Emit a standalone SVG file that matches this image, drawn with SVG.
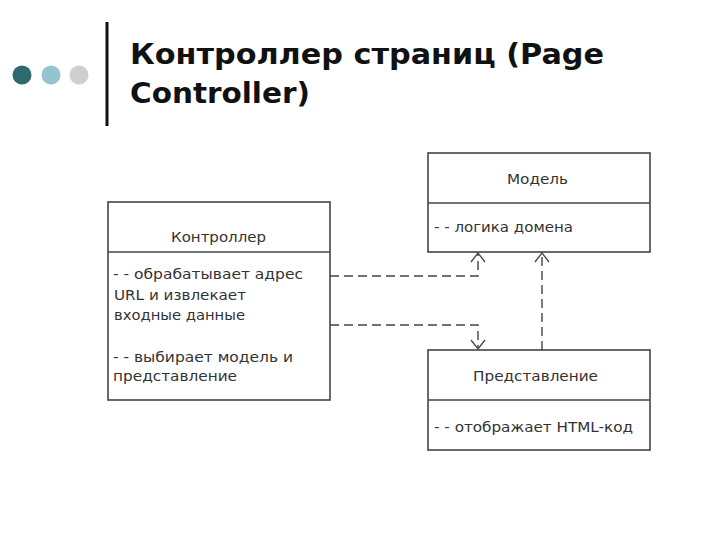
<svg xmlns="http://www.w3.org/2000/svg" width="720" height="540" viewBox="0 0 720 540">
<style>
.title{font-family:"DejaVu Sans","Liberation Sans",Arial,sans-serif;font-weight:bold;font-size:28px;fill:#111}
.box{fill:#fff;stroke:#444;stroke-width:1.6}
.div{stroke:#444;stroke-width:1.6}
.t{font-family:"DejaVu Sans","Liberation Sans",Arial,sans-serif;font-size:14.5px;fill:#333}
.c{text-anchor:middle}
.dash{fill:none;stroke:#444;stroke-width:1.4;stroke-dasharray:9,5}
.head{fill:none;stroke:#444;stroke-width:1.3}
</style>
<rect width="720" height="540" fill="#fff"/>
<g id="header">
<circle cx="22" cy="75" r="9.5" fill="#2e6a6d"/>
<circle cx="51" cy="75" r="9.5" fill="#93c6cc"/>
<circle cx="79" cy="75" r="9.5" fill="#cfcfcf"/>
<line x1="107" y1="22" x2="107" y2="126" stroke="#111" stroke-width="3"/>
<text class="title" x="130" y="64" textLength="474" lengthAdjust="spacingAndGlyphs">Контроллер страниц (Page</text>
<text class="title" x="130" y="103" textLength="180" lengthAdjust="spacingAndGlyphs">Controller)</text>
</g>
<g id="controller">
<rect class="box" x="108" y="202" width="222" height="198"/>
<line class="div" x1="108" y1="252" x2="330" y2="252"/>
<text class="t" x="171" y="242" textLength="95" lengthAdjust="spacingAndGlyphs">Контроллер</text>
<text class="t" x="113" y="279" textLength="190" lengthAdjust="spacingAndGlyphs">- - обрабатывает адрес</text>
<text class="t" x="114" y="300" textLength="132" lengthAdjust="spacingAndGlyphs">URL и извлекает</text>
<text class="t" x="114" y="320" textLength="131" lengthAdjust="spacingAndGlyphs">входные данные</text>
<text class="t" x="113" y="362" textLength="180" lengthAdjust="spacingAndGlyphs">- - выбирает модель и</text>
<text class="t" x="113" y="381" textLength="124" lengthAdjust="spacingAndGlyphs">представление</text>
</g>
<g id="model">
<rect class="box" x="428" y="153" width="222" height="99"/>
<line class="div" x1="428" y1="203" x2="650" y2="203"/>
<text class="t" x="507" y="184" textLength="61" lengthAdjust="spacingAndGlyphs">Модель</text>
<text class="t" x="434" y="232" textLength="139" lengthAdjust="spacingAndGlyphs">- - логика домена</text>
</g>
<g id="view">
<rect class="box" x="428" y="350" width="222" height="100"/>
<line class="div" x1="428" y1="400" x2="650" y2="400"/>
<text class="t" x="473" y="381" textLength="125" lengthAdjust="spacingAndGlyphs">Представление</text>
<text class="t" x="434" y="432" textLength="199" lengthAdjust="spacingAndGlyphs">- - отображает HTML-код</text>
</g>
<g id="connectors">
<path class="dash" d="M330,276 H478 V254"/>
<path class="head" d="M471,262 L478,253 L485,262"/>
<path class="dash" d="M330,325 H478 V348"/>
<path class="head" d="M471,340 L478,349 L485,340"/>
<path class="dash" d="M542,350 V254"/>
<path class="head" d="M535,262 L542,253 L549,262"/>
</g>
</svg>
